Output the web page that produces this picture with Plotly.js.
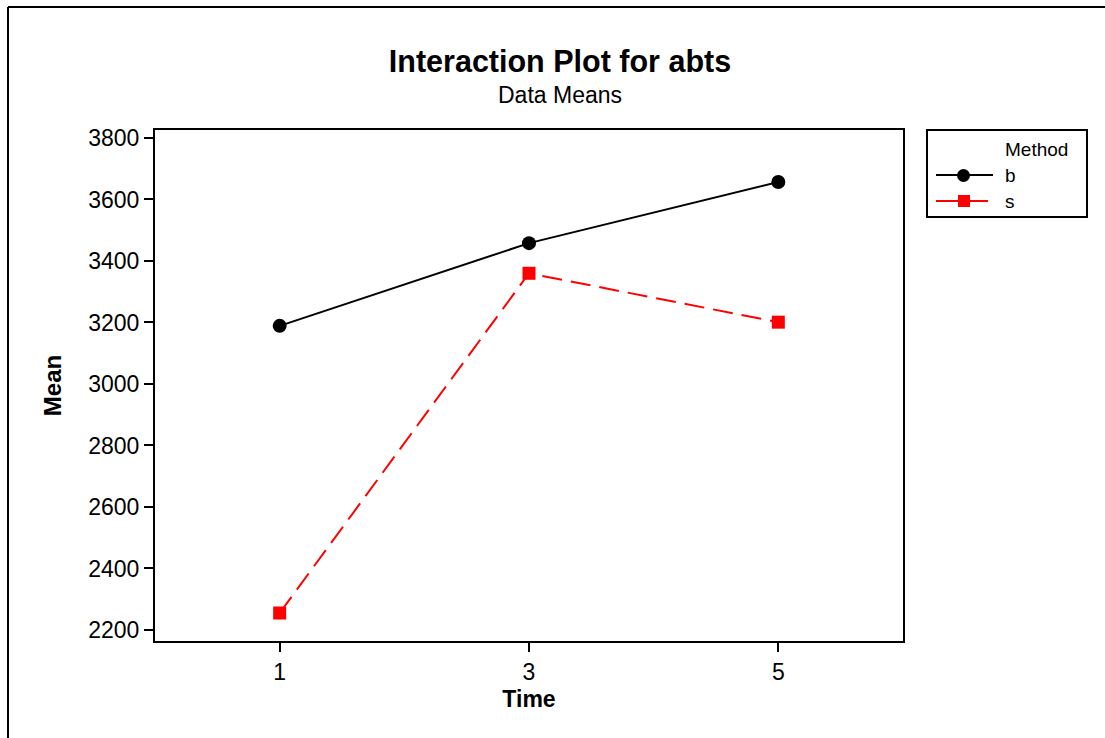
<!DOCTYPE html>
<html>
<head>
<meta charset="utf-8">
<script src="https://cdn.plot.ly/plotly-3.0.1.min.js"></script>
<style>html,body{margin:0;padding:0;background:#fff;}#chart{width:1105px;height:738px;}</style>
</head>
<body>
<div id="chart"></div>
<script>
// ---- data ----
const timeLevels = [1, 3, 5];
const methodNames = ["b", "s"];
const meanB = [3189, 3458, 3657];
const meanS = [2255, 3360, 3201];
const yTicks = [2200, 2400, 2600, 2800, 3000, 3200, 3400, 3600, 3800];

// ---- layout geometry (pixels) ----
const W = 1105, H = 738;
const M = {l: 155, r: 202, t: 130, b: 97};
const PW = W - M.l - M.r, PH = H - M.t - M.b;
const px = x => (x - M.l) / PW;
const py = y => (H - M.b - y) / PH;
const FONT = "Liberation Sans, Arial, sans-serif";

const traces = [
  {x: timeLevels, y: meanB, name: methodNames[0], type: "scatter", mode: "lines+markers",
   line: {color: "#000000", width: 2}, marker: {symbol: "circle", size: 14, color: "#000000"},
   showlegend: false, hoverinfo: "x+y"},
  {x: timeLevels, y: meanS, name: methodNames[1], type: "scatter", mode: "lines+markers",
   line: {color: "#ff0000", width: 2, dash: "20px,9px"}, marker: {symbol: "square", size: 13, color: "#ff0000"},
   showlegend: false, hoverinfo: "x+y"}
];

const shapes = [
  // outer frame (left and top only)
  {type: "line", xref: "paper", yref: "paper", x0: px(8), y0: py(7), x1: px(W + 5), y1: py(7), line: {color: "#000", width: 2}},
  {type: "line", xref: "paper", yref: "paper", x0: px(8), y0: py(7), x1: px(8), y1: py(H + 5), line: {color: "#000", width: 2}},
  // legend box
  {type: "rect", xref: "paper", yref: "paper", x0: px(927), y0: py(130), x1: px(1087), y1: py(217), line: {color: "#000", width: 2}, fillcolor: "rgba(0,0,0,0)"},
  // legend b
  {type: "line", xref: "paper", yref: "paper", x0: px(936), y0: py(175), x1: px(993), y1: py(175), line: {color: "#000", width: 2}},
  {type: "circle", xref: "paper", yref: "paper", x0: px(957), y0: py(169), x1: px(970), y1: py(182), line: {color: "#000", width: 0}, fillcolor: "#000"},
  // legend s
  {type: "line", xref: "paper", yref: "paper", x0: px(936), y0: py(201), x1: px(988), y1: py(201), line: {color: "#ff0000", width: 2}},
  {type: "rect", xref: "paper", yref: "paper", x0: px(958), y0: py(195), x1: px(970), y1: py(207), line: {color: "#ff0000", width: 0}, fillcolor: "#ff0000"}
];

const annotations = [
  {text: "Data Means", xref: "paper", yref: "paper", x: px(560), y: py(95), xanchor: "center", yanchor: "middle", showarrow: false, font: {family: FONT, size: 23, color: "#000"}},
  {text: "Method", xref: "paper", yref: "paper", x: px(1003), y: py(149), xanchor: "left", yanchor: "middle", showarrow: false, font: {family: FONT, size: 19, color: "#000"}},
  {text: methodNames[0], xref: "paper", yref: "paper", x: px(1003), y: py(175), xanchor: "left", yanchor: "middle", showarrow: false, font: {family: FONT, size: 19, color: "#000"}},
  {text: methodNames[1], xref: "paper", yref: "paper", x: px(1003), y: py(201), xanchor: "left", yanchor: "middle", showarrow: false, font: {family: FONT, size: 19, color: "#000"}}
];

const layout = {
  width: W, height: H,
  margin: M,
  paper_bgcolor: "#ffffff", plot_bgcolor: "#ffffff",
  showlegend: false,
  title: {text: "<b>Interaction Plot for abts</b>", x: 560 / W, xanchor: "center", xref: "container",
          y: 1 - 61 / H, yanchor: "middle", yref: "container", font: {family: FONT, size: 30.5, color: "#000"}},
  xaxis: {range: [0, 6], tickvals: timeLevels, ticktext: timeLevels.map(String),
          showgrid: false, zeroline: false, showline: true, linecolor: "#000", linewidth: 2, mirror: true,
          ticks: "outside", ticklen: 9, tickwidth: 2, tickcolor: "#000",
          tickfont: {family: FONT, size: 23, color: "#000"},
          title: {text: "<b>Time</b>", font: {family: FONT, size: 23, color: "#000"}, standoff: 7}, automargin: false},
  yaxis: {range: [2164, 3826], tickvals: yTicks, ticktext: yTicks.map(String),
          showgrid: false, zeroline: false, showline: true, linecolor: "#000", linewidth: 2, mirror: true,
          ticks: "outside", ticklen: 9, tickwidth: 2, tickcolor: "#000",
          tickfont: {family: FONT, size: 23, color: "#000"},
          title: {text: "<b>Mean</b>", font: {family: FONT, size: 24, color: "#000"}, standoff: 20}, automargin: false},
  shapes: shapes,
  annotations: annotations
};

Plotly.newPlot("chart", traces, layout, {displayModeBar: false, staticPlot: true});
</script>
</body>
</html>
